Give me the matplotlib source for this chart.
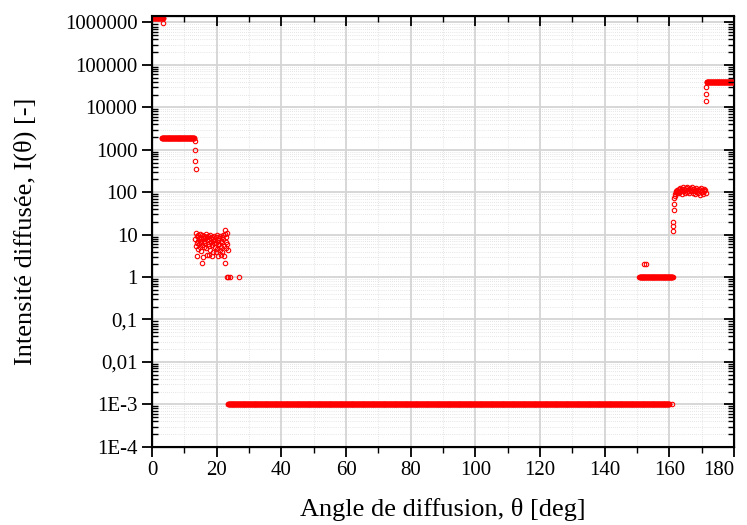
import numpy as np
import matplotlib
matplotlib.use("Agg")
import matplotlib.pyplot as plt
from matplotlib.ticker import LogLocator, MultipleLocator, FuncFormatter, NullFormatter

plt.rcParams["font.family"] = ["Liberation Serif", "DejaVu Serif"]

# plateaus: (start angle, end angle, intensity)
plateaus = [
    (0.0, 3.5, 1.3e6),
    (3.0, 13.1, 1930.0),
    (23.5, 160.0, 1e-3),
    (150.7, 161.0, 1.0),
    (171.5, 180.0, 38500.0),
]
plateau_step = 0.1

# isolated points / scattered clusters
iso_x = [3.3, 13.3, 13.4, 13.4, 13.5, 15.6, 22.6, 23.2, 23.6, 24.0, 27.0,
         152.3, 152.8, 160.8,
         161.0, 161.0, 161.1, 161.3, 161.4, 161.5, 161.6,
         171.3, 171.3, 171.4]
iso_y = [9.5e5, 1600, 1000, 550, 350, 2.1, 2.1, 1.0, 1.0, 1.0, 1.0,
         2.0, 2.0, 1e-3,
         12.4, 16, 19.4, 38, 52, 72, 82,
         14150, 20700, 30700]

clu1_x = [13.4, 13.5, 13.6, 13.8, 13.9, 14.0, 14.1, 14.2, 14.3, 14.5, 14.6,
          14.7, 14.8, 15.0, 15.1, 15.2, 15.3, 15.5, 15.6, 15.7, 15.8, 16.0,
          16.1, 16.2, 16.3, 16.5, 16.6, 16.7, 16.9, 17.0, 17.1, 17.2, 17.4,
          17.5, 17.6, 17.7, 17.9, 18.0, 18.1, 18.3, 18.4, 18.5, 18.6, 18.8,
          18.9, 19.0, 19.1, 19.3, 19.4, 19.5, 19.7, 19.8, 19.9, 20.0, 20.2,
          20.3, 20.4, 20.5, 20.7, 20.8, 20.9, 21.1, 21.2, 21.3, 21.4, 21.6,
          21.7, 21.8, 21.9, 22.1, 22.2, 22.3, 22.5, 22.6, 22.8, 22.9, 23.0,
          23.2, 23.3, 23.4]
clu1_y = [8.0, 5.5, 10.8, 6.5, 9.5, 3.2, 7.2, 9.8, 4.6, 8.5, 6.0,
          10.2, 5.0, 7.8, 9.0, 4.2, 6.8, 10.0, 5.8, 8.2, 3.0, 7.0,
          9.4, 5.2, 8.8, 6.2, 10.1, 4.8, 7.5, 3.4, 8.6, 6.0, 9.2,
          3.3, 5.4, 7.9, 9.6, 4.4, 6.6, 8.4, 3.2, 5.8, 9.0, 7.2,
          4.0, 8.0, 6.2, 9.4, 5.0, 7.6, 3.8, 8.8, 6.4, 4.6, 9.8,
          5.6, 7.4, 3.2, 8.2, 6.0, 4.4, 9.2, 7.0, 5.2, 3.3, 8.6,
          6.6, 4.0, 9.6, 7.8, 5.4, 3.2, 10.6, 12.9, 6.8, 4.8, 9.0,
          10.7, 6.0, 4.4]

clu2_x = [161.8, 162.0, 162.2, 162.3, 162.5, 162.7, 162.9, 163.0, 163.2, 163.4,
          163.6, 163.8, 164.0, 164.1, 164.3, 164.5, 164.7, 164.9, 165.1, 165.3,
          165.5, 165.6, 165.8, 166.0, 166.2, 166.4, 166.6, 166.8, 167.0, 167.2,
          167.4, 167.6, 167.8, 168.0, 168.2, 168.4, 168.6, 168.8, 169.0, 169.2,
          169.4, 169.6, 169.8, 170.0, 170.2, 170.4, 170.6, 170.8, 171.0, 171.3]
clu2_y = [90, 100, 108, 95, 112, 102, 118, 98, 125, 106,
          115, 92, 120, 130, 104, 122, 110, 96, 128, 114,
          100, 135, 108, 118, 94, 126, 112, 104, 132, 98,
          116, 122, 106, 92, 114, 128, 100, 110, 96, 120,
          88, 108, 126, 100, 115, 92, 104, 118, 110, 96]

xtick_vals = [0, 20, 40, 60, 80, 100, 120, 140, 160, 180]
ytick_labels = {1e6: "1000000", 1e5: "100000", 1e4: "10000", 1e3: "1000",
                1e2: "100", 1e1: "10", 1e0: "1", 1e-1: "0,1", 1e-2: "0,01",
                1e-3: "1E-3", 1e-4: "1E-4"}

fig = plt.figure(figsize=(7.47, 5.25), dpi=100)
ax = fig.add_axes([0.2035, 0.149, 0.7791, 0.8205])

mk = dict(linestyle="none", marker="o", markersize=3.2, markerfacecolor="none",
          markeredgecolor="red", markeredgewidth=0.8, zorder=3)

for a, b, v in plateaus:
    xs = np.arange(a, b + 1e-9, plateau_step)
    ax.plot(xs, np.full_like(xs, v), **mk)
ax.plot(iso_x, iso_y, **mk)
ax.plot(clu1_x, clu1_y, **mk)
ax.plot(clu2_x, clu2_y, **mk)

ax.set_yscale("log")
ax.set_xlim(0, 180)
ax.set_ylim(1e-4, 1.42e6)
ax.set_xticks(xtick_vals, [str(v) for v in xtick_vals])
ax.xaxis.set_minor_locator(MultipleLocator(10))
ax.yaxis.set_major_locator(LogLocator(base=10, numticks=20))
ax.yaxis.set_minor_locator(LogLocator(base=10, subs=np.arange(2, 10), numticks=20))
ax.yaxis.set_major_formatter(FuncFormatter(lambda v, p: ytick_labels.get(float(f"{v:.0e}"), "")))
ax.yaxis.set_minor_formatter(NullFormatter())

ax.grid(True, which="major", color="#d4d4d4", linewidth=1.3, linestyle="-", zorder=0)
ax.grid(True, which="minor", color="#cfcfcf", linewidth=0.5, linestyle=(0, (1, 2)), zorder=0)
ax.set_axisbelow(True)

ax.tick_params(axis="both", labelsize=15, width=1.3, color="black")
ax.tick_params(axis="y", which="major", direction="out", length=7, right=False)
ax.tick_params(axis="y", which="minor", direction="in", length=4, width=1.0, right=False)
ax.tick_params(axis="x", which="major", direction="out", length=7, top=False)
ax.tick_params(axis="x", which="minor", direction="out", length=4, width=1.0, top=False)
for s in ax.spines.values():
    s.set_linewidth(1.5)

# mirrored ticks on right and top, pointing inwards
axr = ax.twinx()
axr.set_yscale("log")
axr.set_ylim(ax.get_ylim())
axr.yaxis.set_major_locator(LogLocator(base=10, numticks=20))
axr.yaxis.set_minor_locator(LogLocator(base=10, subs=np.arange(2, 10), numticks=20))
axr.tick_params(axis="y", which="major", direction="in", length=7, width=1.3, labelright=False)
axr.tick_params(axis="y", which="minor", direction="in", length=4, width=1.0, labelright=False)
axt = ax.twiny()
axt.set_xlim(ax.get_xlim())
axt.xaxis.set_major_locator(MultipleLocator(20))
axt.xaxis.set_minor_locator(MultipleLocator(10))
axt.tick_params(axis="x", which="major", direction="in", length=7, width=1.3, labeltop=False)
axt.tick_params(axis="x", which="minor", direction="in", length=4, width=1.0, labeltop=False)

ax.set_xlabel("Angle de diffusion, θ [deg]", fontsize=19, labelpad=13)
ax.set_ylabel("Intensité diffusée, I(θ) [-]", fontsize=19, labelpad=20)

# last x label pulled inside the figure, as in the original
fig.canvas.draw()
for t in ax.xaxis.get_major_ticks():
    if abs(t.get_loc() - 180) < 1e-6:
        t.label1.set_horizontalalignment("right")
        t.label1.set_x(180)

fig.savefig("out.png", dpi=100)
